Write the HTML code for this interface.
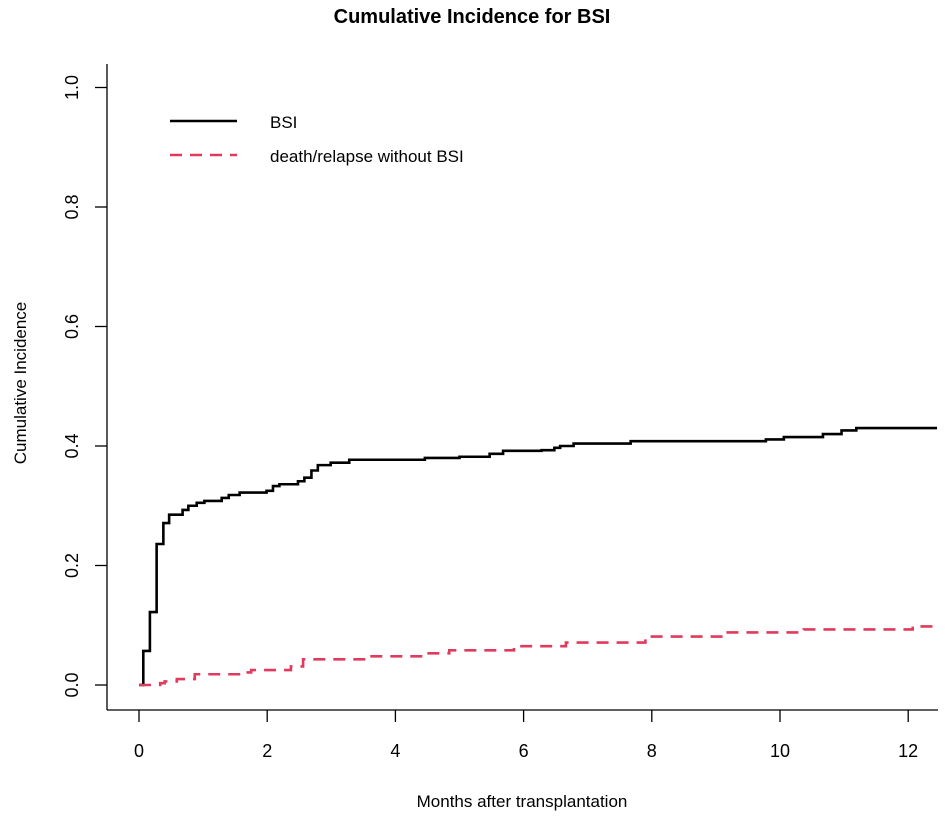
<!DOCTYPE html>
<html><head><meta charset="utf-8"><style>
html,body{margin:0;padding:0;background:#fff;}
svg{display:block;font-family:"Liberation Sans",Arial,sans-serif;}
</style></head><body>
<svg id="chart" width="945" height="818" viewBox="0 0 945 818">
<text x="472" y="23" text-anchor="middle" font-size="20" font-weight="bold">Cumulative Incidence for BSI</text>
<text x="0" y="0" transform="translate(26,383) rotate(-90)" text-anchor="middle" font-size="17">Cumulative Incidence</text>
<text x="522" y="807" text-anchor="middle" font-size="17">Months after transplantation</text>
<g id="axes"></g>
<g id="series"></g>
<g>
  <line x1="170" y1="121" x2="237" y2="121" stroke="#000" stroke-width="2.5"/>
  <text x="270" y="128" font-size="17">BSI</text>
  <line x1="170" y1="155" x2="237" y2="155" stroke="#E03A5C" stroke-width="2.5" stroke-dasharray="12 8"/>
  <text x="270" y="162" font-size="17">death/relapse without BSI</text>
</g>
</svg>
<script>
const xTicks = [0, 2, 4, 6, 8, 10, 12];
const yTicks = [0.0, 0.2, 0.4, 0.6, 0.8, 1.0];
const yTickLabels = ["0.0", "0.2", "0.4", "0.6", "0.8", "1.0"];
const bsiTimes = [0, 0.067, 0.17, 0.275, 0.38, 0.47, 0.68, 0.77, 0.9, 1.02, 1.29, 1.4, 1.57, 1.99, 2.09, 2.19, 2.48, 2.58, 2.69, 2.79, 2.99, 3.28, 4.46, 5.0, 5.47, 5.68, 6.28, 6.48, 6.57, 6.78, 7.67, 9.78, 10.06, 10.67, 10.96, 11.19];
const bsiValues = [0, 0.057, 0.122, 0.236, 0.271, 0.285, 0.293, 0.3, 0.305, 0.308, 0.313, 0.318, 0.322, 0.325, 0.333, 0.336, 0.341, 0.347, 0.359, 0.368, 0.372, 0.377, 0.38, 0.382, 0.387, 0.392, 0.393, 0.397, 0.4, 0.404, 0.408, 0.411, 0.415, 0.42, 0.426, 0.43];
const deathTimes = [0, 0.33, 0.4, 0.59, 0.87, 1.6, 1.75, 2.37, 2.56, 3.54, 4.45, 4.84, 5.85, 6.66, 7.9, 9.15, 10.37, 12.07];
const deathValues = [0, 0.003, 0.006, 0.01, 0.018, 0.021, 0.025, 0.031, 0.043, 0.048, 0.053, 0.058, 0.065, 0.071, 0.081, 0.088, 0.093, 0.098];
const xMaxData = 12.45;

const NS = "http://www.w3.org/2000/svg";
const X0 = 139, XS = 64.1, Y0 = 685, YS = 597.5;
function sx(v){ return X0 + v * XS; }
function sy(v){ return Y0 - v * YS; }
function mk(tag, attrs, parent){
  const e = document.createElementNS(NS, tag);
  for (const k in attrs) e.setAttribute(k, attrs[k]);
  parent.appendChild(e);
  return e;
}
const axes = document.getElementById('axes');
const series = document.getElementById('series');

const yAxis = mk('line', {x1:107, y1:64, x2:107, y2:710, stroke:'#000', 'stroke-width':1.3}, axes);


const xAxis = mk('line', {x1:107, y1:710, x2:938, y2:710, stroke:'#000', 'stroke-width':1.3}, axes);



xTicks.forEach(function(t){
  const tk = mk('line', {x1:sx(t), y1:710, x2:sx(t), y2:722, stroke:'#000', 'stroke-width':1.3}, axes);
  
  
  const lb = mk('text', {x:sx(t), y:757, 'text-anchor':'middle', 'font-size':18}, axes);
  lb.textContent = String(t);
  
  
});
yTicks.forEach(function(t, i){
  const tk = mk('line', {x1:95, y1:sy(t), x2:107, y2:sy(t), stroke:'#000', 'stroke-width':1.3}, axes);
  
  
  const lb = mk('text', {x:0, y:0, transform:'translate(78,' + sy(t) + ') rotate(-90)', 'text-anchor':'middle', 'font-size':18}, axes);
  lb.textContent = yTickLabels[i];
  
  
});

function stepPath(ts, vs){
  let d = 'M' + sx(ts[0]) + ',' + sy(vs[0]);
  for (let i = 1; i < ts.length; i++){
    d += ' H' + sx(ts[i]) + ' V' + sy(vs[i]);
  }
  d += ' H' + sx(xMaxData);
  return d;
}
const bsi = mk('path', {d:stepPath(bsiTimes, bsiValues), fill:'none', stroke:'#000', 'stroke-width':2.6}, series);


const death = mk('path', {d:stepPath(deathTimes, deathValues), fill:'none', stroke:'#E03A5C', 'stroke-width':2.6, 'stroke-dasharray':'12 8'}, series);


</script>
</body></html>
